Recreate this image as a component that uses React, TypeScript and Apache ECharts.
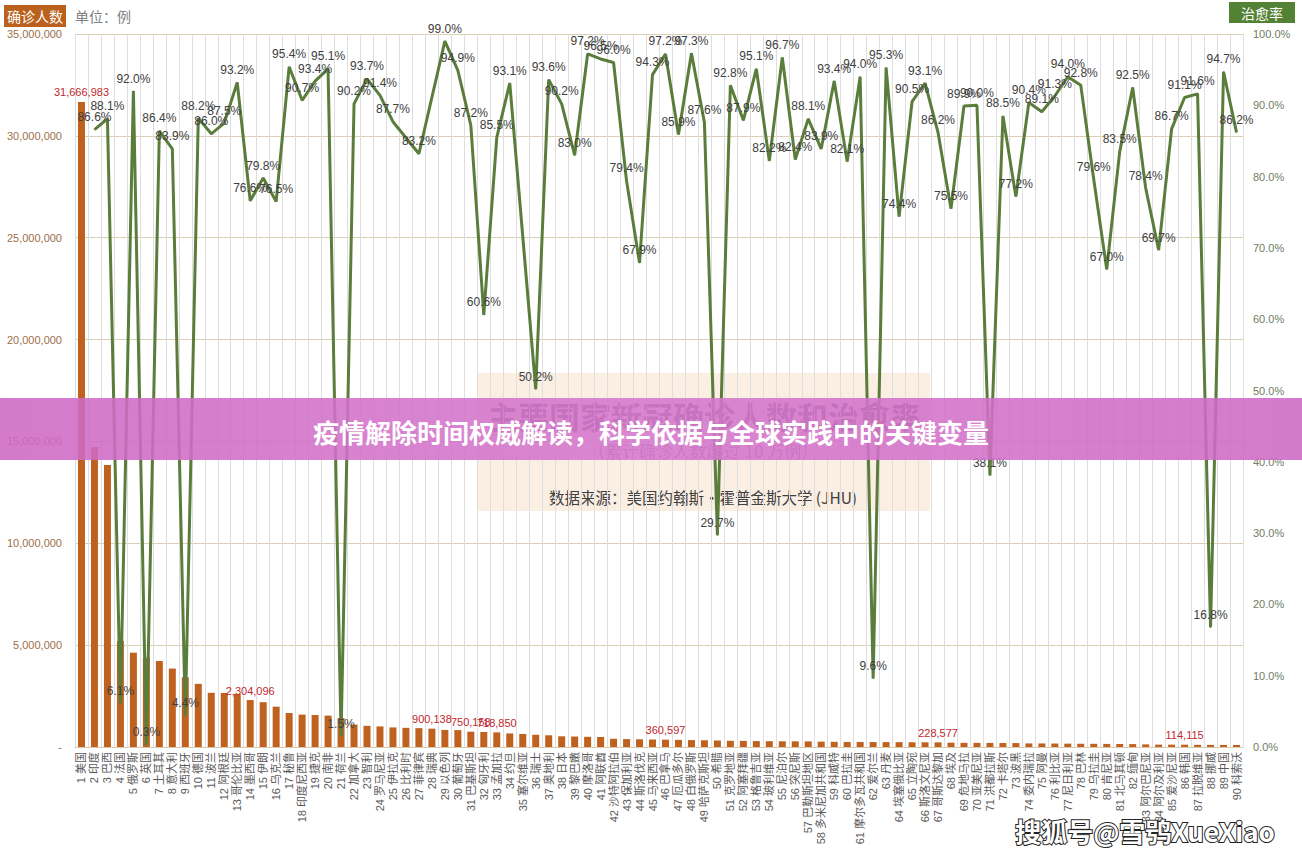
import React, { useEffect, useRef } from "react";
import * as echarts from "echarts";

const countries = [
  "美国", "印度", "巴西", "法国", "俄罗斯", "英国", "土耳其", "意大利", "西班牙", "德国",
  "波兰", "阿根廷", "哥伦比亚", "墨西哥", "伊朗", "乌克兰", "秘鲁", "印度尼西亚", "捷克", "南非",
  "荷兰", "加拿大", "智利", "罗马尼亚", "伊拉克", "比利时", "菲律宾", "瑞典", "以色列", "葡萄牙",
  "巴基斯坦", "匈牙利", "孟加拉", "约旦", "塞尔维亚", "瑞士", "奥地利", "日本", "黎巴嫩", "摩洛哥",
  "阿联酋", "沙特阿拉伯", "保加利亚", "斯洛伐克", "马来西亚", "巴拿马", "厄瓜多尔", "白俄罗斯", "哈萨克斯坦", "希腊",
  "克罗地亚", "阿塞拜疆", "格鲁吉亚", "玻利维亚", "尼泊尔", "突尼斯", "巴勒斯坦地区", "多米尼加共和国", "科威特", "巴拉圭",
  "摩尔多瓦共和国", "爱尔兰", "丹麦", "埃塞俄比亚", "立陶宛", "斯洛文尼亚", "哥斯达黎加", "埃及", "危地马拉", "亚美尼亚",
  "洪都拉斯", "卡塔尔", "波黑", "委内瑞拉", "阿曼", "利比亚", "尼日利亚", "巴林", "乌拉圭", "肯尼亚",
  "北马其顿", "缅甸", "阿尔巴尼亚", "阿尔及利亚", "爱沙尼亚", "韩国", "拉脱维亚", "挪威", "中国", "科索沃",
];

const confirmed = [
  31666983, 14730000, 13840000, 5200000, 4630000, 4390000, 4220000, 3850000, 3420000, 3100000,
  2660000, 2650000, 2600000, 2304096, 2200000, 1980000, 1670000, 1590000, 1570000, 1540000,
  1420000, 1100000, 1040000, 1010000, 960000, 940000, 926000, 900138, 838000, 830000,
  750158, 735000, 718850, 665000, 640000, 600000, 575000, 525000, 515000, 500000,
  490000, 405000, 390000, 378000, 368000, 360597, 350000, 340000, 330000, 320000,
  305000, 300000, 291000, 285000, 280000, 278000, 275000, 262000, 255000, 250000,
  246000, 243000, 240000, 237000, 233000, 231000, 228577, 213000, 205000, 203000,
  199000, 195000, 193000, 175000, 174000, 170000, 164000, 160000, 158000, 151000,
  148000, 142000, 129000, 118000, 116000, 114115, 107000, 105000, 102000, 101000,
];

const recovery = [
  null, 86.6, 88.1, 6.1, 92.0, 0.3, 86.4, 83.9, 4.4, 88.2,
  86.0, 87.5, 93.2, 76.6, 79.8, 76.5, 95.4, 90.7, 93.4, 95.1,
  1.5, 90.2, 93.7, 91.4, 87.7, null, 83.2, null, 99.0, 94.9,
  87.2, 60.6, 85.5, 93.1, null, 50.2, 93.6, 90.2, 83.0, 97.2,
  96.5, 96.0, 79.4, 67.9, 94.3, 97.2, 85.9, 97.3, 87.6, 29.7,
  92.8, 87.9, 95.1, 82.2, 96.7, 82.4, 88.1, 83.9, 93.4, 82.1,
  94.0, 9.6, 95.3, 74.4, 90.5, 93.1, 86.2, 75.5, 89.9, 90.0,
  38.1, 88.5, 77.2, 90.4, 89.1, 91.3, 94.0, 92.8, 79.6, 67.0,
  83.5, 92.5, 78.4, 69.7, 86.7, 91.1, 91.6, 16.8, 94.7, 86.2,
];

// indexes (0-based) of bars whose value is printed
const labeledBars = [0, 13, 27, 30, 32, 45, 66, 85];

const leftMax = 35000000;
const leftStep = 5000000;
const rightMax = 100;
const rightStep = 10;

const FONT = "'Liberation Sans', 'Noto Sans CJK SC', sans-serif";
const CJK = "'Noto Sans CJK SC', sans-serif";

export default function App() {
  const ref = useRef<HTMLDivElement>(null);

  useEffect(() => {
    if (!ref.current) return;
    const chart = echarts.init(ref.current, undefined, { renderer: "svg" });
    const categories = countries.map((c, i) => `${i + 1} ${c}`);
    const barData = confirmed.map((v, i) =>
      labeledBars.includes(i)
        ? {
            value: v,
            label: {
              show: true,
              position: "top",
              distance: 4,
              color: "#c0282e",
              fontSize: 11,
              fontFamily: FONT,
              formatter: (p: any) => Number(p.value).toLocaleString("en-US"),
            },
          }
        : v
    );

    chart.setOption({
      animation: false,
      textStyle: { fontFamily: FONT },
      grid: { left: 75, right: 59, top: 34, bottom: 112, containLabel: false },
      xAxis: {
        type: "category",
        data: categories,
        axisTick: { show: false },
        axisLine: { lineStyle: { color: "#d8c9ac" } },
        splitLine: { show: true, lineStyle: { color: "#dedede", width: 1 } },
        axisLabel: {
          interval: 0,
          rotate: 90,
          fontSize: 11,
          color: "#5a5a5a",
          margin: 5,
          fontFamily: FONT,
        },
      },
      yAxis: [
        {
          type: "value",
          min: 0,
          max: leftMax,
          interval: leftStep,
          axisLine: { show: false },
          axisTick: { show: false },
          splitLine: { lineStyle: { color: "#dccfb5" } },
          axisLabel: {
            color: "#9c6f4a",
            fontSize: 11,
            margin: 13,
            fontFamily: FONT,
            formatter: (v: number) => (v === 0 ? "-" : v.toLocaleString("en-US")),
          },
        },
        {
          type: "value",
          min: 0,
          max: rightMax,
          interval: rightStep,
          axisLine: { show: false },
          axisTick: { show: false },
          splitLine: { show: false },
          axisLabel: {
            color: "#6f7d62",
            fontSize: 11,
            margin: 10,
            fontFamily: FONT,
            formatter: (v: number) => v.toFixed(1) + "%",
          },
        },
      ],
      series: [
        {
          type: "bar",
          yAxisIndex: 0,
          data: barData,
          barWidth: 7,
          itemStyle: { color: "#c0621f" },
          z: 2,
        },
        {
          type: "line",
          yAxisIndex: 1,
          data: recovery,
          connectNulls: true,
          symbol: "circle",
          symbolSize: 1,
          showSymbol: true,
          showAllSymbol: true,
          itemStyle: { color: "#5b7d3b" },
          lineStyle: { color: "#5b7d3b", width: 3 },
          z: 3,
          label: {
            show: true,
            position: "top",
            distance: 6,
            color: "#404040",
            fontSize: 12,
            fontFamily: FONT,
            formatter: (p: any) => (p.value == null ? "" : Number(p.value).toFixed(1) + "%"),
          },
        },
      ],
      graphic: [
        {
          type: "rect",
          shape: { x: 4, y: 5, width: 62, height: 22 },
          style: { fill: "#b9611d" },
        },
        {
          type: "text",
          x: 35,
          y: 16,
          style: {
            text: "确诊人数",
            fill: "#ffffff",
            font: `14px ${CJK}`,
            textAlign: "center",
            textVerticalAlign: "middle",
          },
        },
        {
          type: "text",
          x: 75,
          y: 16,
          style: {
            text: "单位：例",
            fill: "#808080",
            font: `14px ${CJK}`,
            textAlign: "left",
            textVerticalAlign: "middle",
          },
        },
        {
          type: "rect",
          shape: { x: 1229, y: 2, width: 66, height: 21 },
          style: { fill: "#548235" },
        },
        {
          type: "text",
          x: 1262,
          y: 12.5,
          style: {
            text: "治愈率",
            fill: "#ffffff",
            font: `14px ${CJK}`,
            textAlign: "center",
            textVerticalAlign: "middle",
          },
        },
        {
          type: "rect",
          z: -1,
          shape: { x: 477, y: 373, width: 453, height: 138 },
          style: { fill: "rgba(248, 222, 200, 0.5)" },
        },
        {
          type: "text",
          x: 704,
          y: 415,
          z: -1,
          style: {
            text: "主要国家新冠确诊人数和治愈率",
            fill: "#595959",
            font: `bold 31px ${CJK}`,
            textAlign: "center",
            textVerticalAlign: "middle",
          },
        },
        {
          type: "text",
          x: 703,
          y: 450,
          z: -1,
          style: {
            text: "（累计确诊人数超过 10 万例）",
            fill: "#7f7f7f",
            font: `17px ${CJK}`,
            textAlign: "center",
            textVerticalAlign: "middle",
          },
        },
        {
          type: "text",
          x: 703,
          y: 497,
          z: -1,
          style: {
            text: "数据来源：美国约翰斯·霍普金斯大学 (JHU)",
            fill: "#404040",
            font: `15.5px ${CJK}`,
            textAlign: "center",
            textVerticalAlign: "middle",
          },
        },
        {
          type: "rect",
          z: 100,
          shape: { x: 0, y: 398, width: 1302, height: 62 },
          style: {
            fill: new echarts.graphic.LinearGradient(0, 0, 1, 0, [
              { offset: 0, color: "rgba(206, 104, 196, 0.88)" },
              { offset: 0.5, color: "rgba(214, 120, 206, 0.88)" },
              { offset: 1, color: "rgba(206, 104, 196, 0.88)" },
            ]),
          },
        },
        {
          type: "text",
          z: 101,
          x: 651,
          y: 431,
          style: {
            text: "疫情解除时间权威解读，科学依据与全球实践中的关键变量",
            fill: "#ffffff",
            font: `bold 26px ${CJK}`,
            textAlign: "center",
            textVerticalAlign: "middle",
          },
        },
        {
          type: "text",
          z: 101,
          x: 1145,
          y: 830,
          style: {
            text: "搜狐号@雪鸮XueXiao",
            fill: "#ffffff",
            stroke: "#222222",
            lineWidth: 2,
            font: `bold 26px ${CJK}`,
            textAlign: "center",
            textVerticalAlign: "middle",
          },
        },
      ],
    });
    return () => chart.dispose();
  }, []);

  return (
    <div
      ref={ref}
      style={{ position: "fixed", left: 0, top: 0, width: 1302, height: 859, background: "#ffffff" }}
    />
  );
}
